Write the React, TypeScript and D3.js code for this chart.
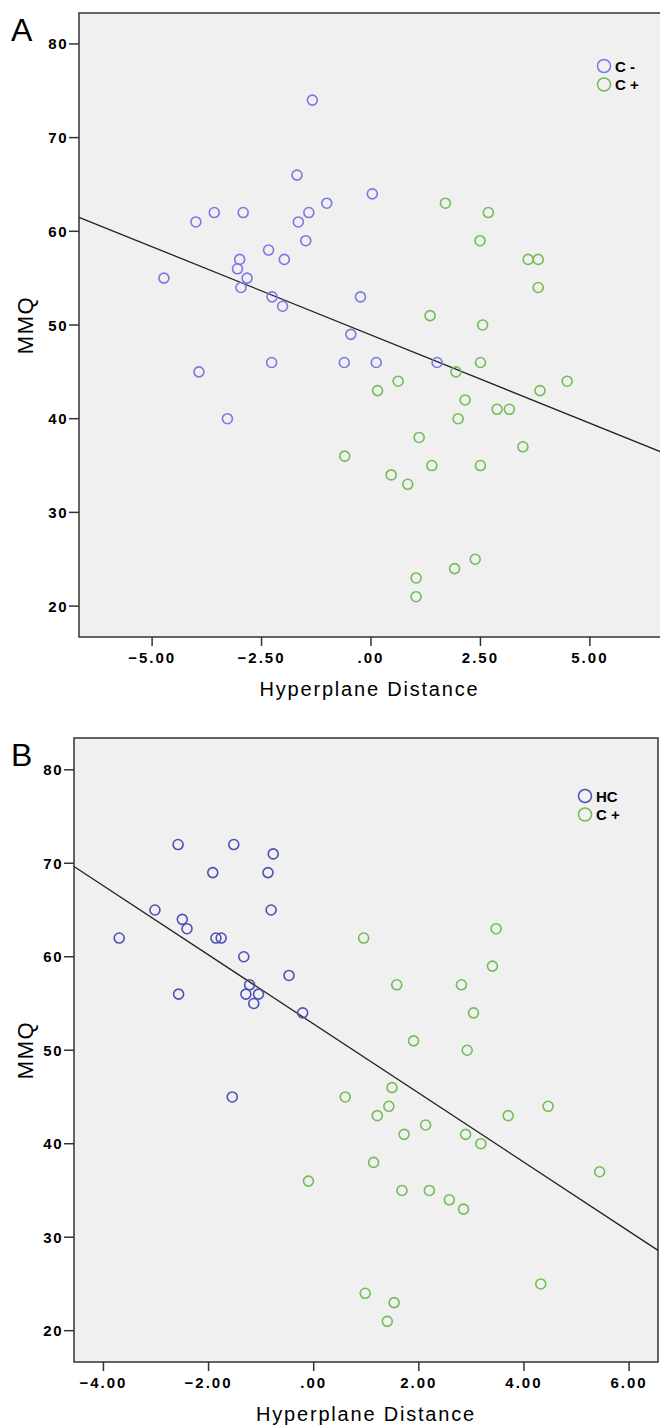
import * as d3 from "d3";

// panel A: C- vs C+
const aBlueX = [-1.34, -1.69, -4.0, -3.58, -2.92, -1.01, -1.66, -1.42, -1.49, -2.34, -1.98, -3.0, -3.05, -2.83, -2.97, -4.73, -2.26, -2.02, 0.03, -0.24, -0.46, -3.93, -2.27, -3.28, -0.61, 0.12, 1.51];
const aBlueY = [74, 66, 61, 62, 62, 63, 61, 62, 59, 58, 57, 57, 56, 55, 54, 55, 53, 52, 64, 53, 49, 45, 46, 40, 46, 46, 46];
const aGreenX = [1.7, 2.68, 2.49, 3.59, 3.82, 3.82, 1.35, 2.55, 2.5, 1.94, 0.62, 0.15, 4.48, 3.86, 2.15, 2.88, 3.16, 1.99, 1.1, 3.47, -0.6, 1.39, 2.5, 0.46, 0.84, 2.38, 1.91, 1.03, 1.03];
const aGreenY = [63, 62, 59, 57, 57, 54, 51, 50, 46, 45, 44, 43, 44, 43, 42, 41, 41, 40, 38, 37, 36, 35, 35, 34, 33, 25, 24, 23, 21];

// panel B: HC vs C+
const bBlueX = [-2.58, -1.52, -0.77, -1.92, -0.87, -3.02, -0.81, -2.5, -2.41, -3.7, -1.86, -1.76, -1.33, -0.47, -1.22, -1.29, -1.05, -2.57, -1.14, -0.21, -1.55];
const bBlueY = [72, 72, 71, 69, 69, 65, 65, 64, 63, 62, 62, 62, 60, 58, 57, 56, 56, 56, 55, 54, 45];
const bGreenX = [0.95, 3.47, 3.4, 1.58, 2.81, 3.04, 1.9, 2.92, 1.49, 0.6, 1.43, 4.46, 1.21, 3.7, 2.13, 1.72, 2.89, 3.18, 1.14, 5.44, 1.68, 2.2, 2.58, 2.85, 4.32, 0.98, 1.53, 1.4, -0.1];
const bGreenY = [62, 63, 59, 57, 57, 54, 51, 50, 46, 45, 44, 44, 43, 43, 42, 41, 41, 40, 38, 37, 35, 35, 34, 33, 25, 24, 23, 21, 36];

// fit lines (slope, intercept)
const aFit = [-1.884, 48.93];
const bFit = [-3.696, 52.8];

const aXTicks = [-5, -2.5, 0, 2.5, 5];
const bXTicks = [-4, -2, 0, 2, 4, 6];
const yTicks = [20, 30, 40, 50, 60, 70, 80];

const aLegend = ["C -", "C +"];
const bLegend = ["HC", "C +"];

const green = "#72bd57";
const fnt = "'Liberation Sans', Arial, sans-serif";

const fmtTick = (v: number) => {
  const s = d3.format(".2f")(v);
  return s.startsWith("0.") ? s.slice(1) : s;
};

function Panel({ letter, bx, by, gx, gy, fit, xTicks, xDomain, yDomain, left, right, top, bottom, legend, blue, legendX, legendY }: any) {
  const x = d3.scaleLinear().domain(xDomain).range([left, right]);
  const y = d3.scaleLinear().domain(yDomain).range([bottom, top]);
  const line = d3.line<number>().x((d) => x(d)).y((d) => y(fit[0] * d + fit[1]));
  const cx = (left + Math.min(right, 660)) / 2;
  return (
    <g fontFamily={fnt}>
      <text x={11} y={top + 28} fontSize={32}>{letter}</text>
      <rect x={left} y={top} width={right - left} height={bottom - top} fill="#f0f0f0" stroke="#333" strokeWidth={1.5} />
      {yTicks.map((t) => (
        <g key={t}>
          <line x1={left - 10} x2={left} y1={y(t)} y2={y(t)} stroke="#333" strokeWidth={1.5} />
          <text x={left - 11} y={y(t) + 5.5} textAnchor="end" fontSize={15} fontWeight="bold" letterSpacing={1.5}>{t}</text>
        </g>
      ))}
      {xTicks.map((t: number) => (
        <g key={t}>
          <line x1={x(t)} x2={x(t)} y1={bottom} y2={bottom + 9} stroke="#333" strokeWidth={1.5} />
          <text x={x(t)} y={bottom + 26} textAnchor="middle" fontSize={15} fontWeight="bold" letterSpacing={2}>{fmtTick(t)}</text>
        </g>
      ))}
      <text x={cx} y={bottom + 59} textAnchor="middle" fontSize={20} letterSpacing={1.8}>Hyperplane Distance</text>
      <text transform={`translate(33,${(top + bottom) / 2}) rotate(-90)`} textAnchor="middle" fontSize={22} letterSpacing={1.5}>MMQ</text>
      <path d={line(xDomain) || ""} stroke="#222" strokeWidth={1.3} fill="none" />
      {bx.map((v: number, i: number) => (
        <circle key={"b" + i} cx={x(v)} cy={y(by[i])} r={5} fill="none" stroke={blue} strokeWidth={1.6} />
      ))}
      {gx.map((v: number, i: number) => (
        <circle key={"g" + i} cx={x(v)} cy={y(gy[i])} r={5} fill="none" stroke={green} strokeWidth={1.6} />
      ))}
      {legend.map((l: string, i: number) => (
        <g key={l + i}>
          <circle cx={legendX} cy={legendY + i * 18.5} r={6.5} fill="none" stroke={i === 0 ? blue : green} strokeWidth={1.5} />
          <text x={legendX + 11} y={legendY + i * 18.5 + 5.5} fontSize={15} fontWeight="bold">{l}</text>
        </g>
      ))}
    </g>
  );
}

export default function App() {
  return (
    <svg width={660} height={1427} style={{ position: "absolute", left: 0, top: 0 }}>
      <rect width={660} height={1427} fill="#fff" />
      <Panel letter="A" bx={aBlueX} by={aBlueY} gx={aGreenX} gy={aGreenY} fit={aFit} xTicks={aXTicks}
        xDomain={[-6.67, 6.67]} yDomain={[16.7, 83.3]} left={79} right={663} top={13} bottom={637}
        legend={aLegend} blue="#7b78e2" legendX={604} legendY={66} />
      <Panel letter="B" bx={bBlueX} by={bBlueY} gx={bGreenX} gy={bGreenY} fit={bFit} xTicks={bXTicks}
        xDomain={[-4.56, 6.55]} yDomain={[16.65, 83.4]} left={74} right={658} top={738} bottom={1362}
        legend={bLegend} blue="#4b52b3" legendX={585} legendY={796} />
    </svg>
  );
}
